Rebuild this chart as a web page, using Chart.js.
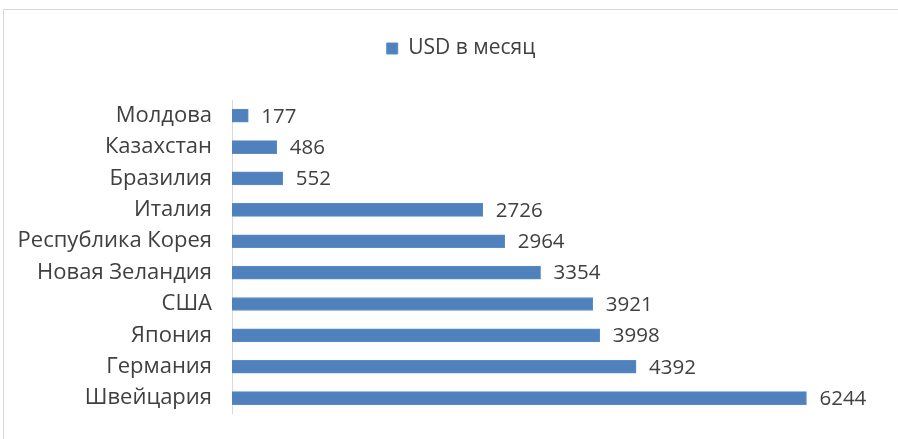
<!DOCTYPE html>
<html>
<head>
<meta charset="utf-8">
<script src="https://cdn.jsdelivr.net/npm/chart.js@4.4.1/dist/chart.umd.min.js"></script>
<style>
  html, body { margin: 0; padding: 0; background: #fff; }
  #wrap { position: relative; width: 898px; height: 439px; overflow: hidden; }
  #frame { position: absolute; left: 3px; top: 9px; width: 920px; height: 460px; border: 1px solid #d9d9d9; box-sizing: border-box; pointer-events: none; }
  canvas { position: absolute; left: 0; top: 0; }
</style>
</head>
<body>
<div id="wrap">
  <div id="frame"></div>
  <canvas id="c" width="898" height="439"></canvas>
</div>
<script>
/* Salary by country, USD per month (horizontal bars, top to bottom). */
const countries = ["Молдова", "Казахстан", "Бразилия", "Италия", "Республика Корея", "Новая Зеландия", "США", "Япония", "Германия", "Швейцария"];
const usdPerMonth = [177, 486, 552, 2726, 2964, 3354, 3921, 3998, 4392, 6244];
const seriesName = "USD в месяц";
const xMax = 7000;

const FONT = "'Open Sans', sans-serif";
const TXT = "#404040";

// value labels just past the end of each bar
const valueLabels = {
  id: "valueLabels",
  afterDatasetsDraw(chart) {
    const { ctx } = chart;
    const meta = chart.getDatasetMeta(0);
    ctx.save();
    ctx.font = "20.5px " + FONT;
    ctx.fillStyle = TXT;
    ctx.textAlign = "left";
    ctx.textBaseline = "middle";
    meta.data.forEach((bar, i) => ctx.fillText(String(usdPerMonth[i]), bar.x + 13, bar.y + 1));
    ctx.restore();
  }
};

// legend in the original sits a little right of the canvas centre
const legendShift = {
  id: "legendShift",
  afterLayout(chart) { chart.legend.left += 23; chart.legend.right += 23; }
};

new Chart(document.getElementById("c"), {
  type: "bar",
  data: {
    labels: countries,
    datasets: [{ label: seriesName, data: usdPerMonth, backgroundColor: "#4f81bd", borderColor: "#5b8cc6", borderWidth: 1, barThickness: 13 }]
  },
  options: {
    indexAxis: "y",
    responsive: false,
    animation: false,
    layout: { padding: { top: 0, right: 22, bottom: 17, left: 0 } },
    plugins: {
      legend: {
        position: "top",
        weight: 3000, // keep legend above the spacer title
        labels: { font: { family: FONT, size: 21 }, color: TXT, boxWidth: 11, boxHeight: 11, padding: 38 }
      },
      // empty title used only as a gap between legend and bars
      title: { display: true, text: "", font: { size: 1, lineHeight: 1 }, padding: { top: 0, bottom: 30 } },
      tooltip: { enabled: false }
    },
    scales: {
      x: { display: false, min: 0, max: xMax },
      y: {
        grid: { display: false },
        border: { display: true, color: "#d9d9d9", width: 1 },
        ticks: { font: { family: FONT, size: 22 }, color: TXT, padding: 12 },
        afterFit: (s) => { s.width = 232; }
      }
    }
  },
  plugins: [valueLabels, legendShift]
});
</script>
</body>
</html>
